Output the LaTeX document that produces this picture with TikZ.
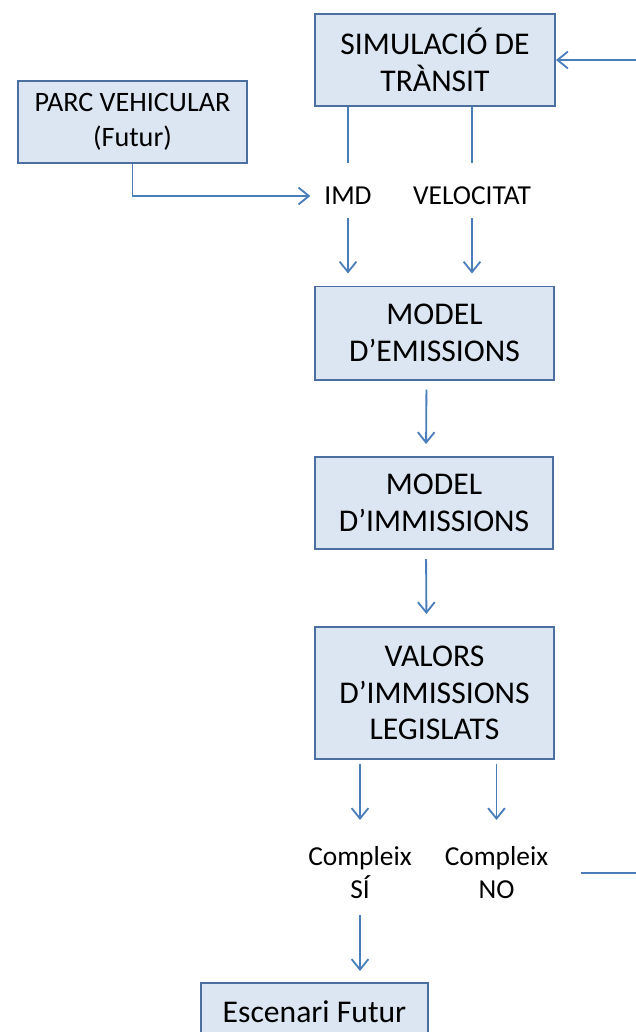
\documentclass[tikz,border=0pt]{standalone}
\usepackage{fontspec}
\setmainfont{Carlito}
\usetikzlibrary{arrows.meta}
\definecolor{boxfill}{HTML}{DCE6F2}
\definecolor{boxline}{HTML}{4A6FA0}
\definecolor{linkcol}{HTML}{4A7EBB}
\begin{document}
\begin{tikzpicture}[x=0.025cm, y=-0.025cm,
    box/.style={draw=boxline, line width=1.4pt, fill=boxfill, align=center,
      inner sep=0pt, font=\fontsize{22.5}{26}\selectfont},
    lbl/.style={align=center, inner sep=0pt, font=\fontsize{19.5}{23.5}\selectfont},
    line/.style={draw=linkcol, line width=1.3pt},
    link/.style={line, -{Straight Barb[length=2.6mm,width=4.2mm]}}]
    \useasboundingbox (0,0) rectangle (636,1032);
    % boxes
    \node[box, minimum width=6cm, minimum height=2.3cm] (sim) at (435,60) {SIMULACIÓ DE\\TRÀNSIT};
    \node[box, minimum width=5.725cm, minimum height=2.05cm, font=\fontsize{20}{25}\selectfont] (parc) at (132.5,122) {PARC VEHICULAR\\(Futur)};
    \node[box, minimum width=5.975cm, minimum height=2.325cm] (emis) at (434.5,333) {MODEL\\D’EMISSIONS};
    \node[box, minimum width=5.95cm, minimum height=2.3cm] (immis) at (434,503) {MODEL\\D’IMMISSIONS};
    \node[box, minimum width=5.975cm, minimum height=3.3cm] (valors) at (434.5,693) {VALORS\\D’IMMISSIONS\\LEGISLATS};
    \node[box, minimum width=5.675cm, minimum height=1.45cm] (escen) at (314.5,1012) {Escenari Futur};
    % labels
    \node[lbl] (imd) at (348,196) {IMD};
    \node[lbl] (vel) at (472,196) {VELOCITAT};
    \node[lbl] (si) at (360,873) {Compleix\\SÍ};
    \node[lbl] (no) at (496.5,873) {Compleix\\NO};
    \coordinate (loopB) at (660,873);
    % connectors
    \draw[line, shorten >=0.825cm] (sim.south -| imd) -- (imd.center);
    \draw[line, shorten >=0.825cm] (sim.south -| vel) -- (vel.center);
    \draw[link, shorten >=0.94cm] (parc.south) |- (imd.center);
    \draw[link, shorten <=0.55cm, shorten >=0.3cm] (imd.center) -- (emis.north -| imd);
    \draw[link, shorten <=0.55cm, shorten >=0.3cm] (vel.center) -- (emis.north -| vel);
    \draw[link, shorten <=0.225cm, shorten >=0.3cm] ([xshift=-0.2cm]emis.south) -- ([xshift=-0.2cm]immis.north);
    \draw[link, shorten <=0.225cm, shorten >=0.3cm] ([xshift=-0.2cm]immis.south) -- ([xshift=-0.2cm]valors.north);
    \draw[link, shorten <=0.1cm, shorten >=1.325cm] (valors.south -| si) -- (si.center);
    \draw[link, shorten <=0.1cm, shorten >=1.325cm] (valors.south -| no) -- (no.center);
    \draw[link, shorten <=1.05cm, shorten >=0.275cm] (si.center) -- (escen.north -| si);
    \draw[link, shorten <=2.1cm] (no.center) -- (loopB) |- (sim.east);
\end{tikzpicture}
\end{document}
